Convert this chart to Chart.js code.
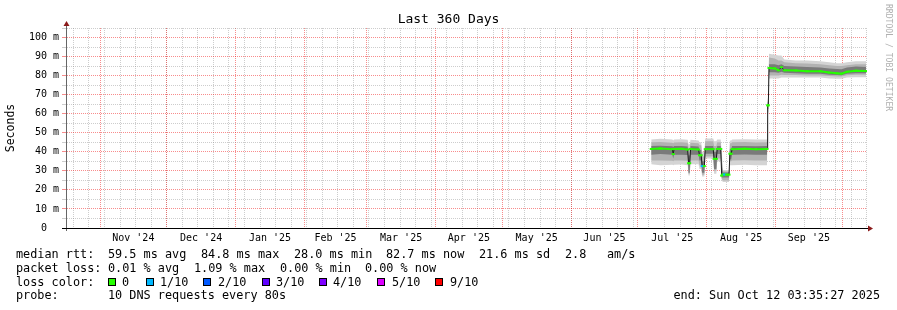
<!DOCTYPE html>
<html lang="en">
<head>
<meta charset="UTF-8">
<title>Last 360 Days</title>
<script src="https://cdn.jsdelivr.net/npm/chart.js@4"></script>
<style>
  body { margin: 0; background: #fff; }
  #wrap { position: relative; width: 897px; height: 310px; font-family: 'DejaVu Sans Mono', monospace; color: #000; }
  #wrap canvas { position: absolute; left: 0; top: 0; }
  #title { position: absolute; left: 0; top: 11px; width: 897px; text-align: center; font-size: 13px; line-height: 16px; }
  #rrd { position: absolute; left: 884px; top: 4px; writing-mode: vertical-rl; font-size: 8.1px; line-height: 10px; color: #b0b0b0; }
  .t { position: absolute; white-space: pre; font-size: 11.84px; line-height: 14px; }
  .box { position: absolute; top: 278px; width: 6px; height: 6px; border: 1px solid #000; }
</style>
</head>
<body>
<div id="wrap">
  <canvas id="smoke" width="897" height="310"></canvas>
  <div id="title">Last 360 Days</div>
  <div id="rrd">RRDTOOL / TOBI OETIKER</div>

  <div class="t" style="left:16px;top:247px">median rtt:</div>
  <div class="t" style="left:108px;top:247px">59.5 ms avg</div>
  <div class="t" style="left:201px;top:247px">84.8 ms max</div>
  <div class="t" style="left:294px;top:247px">28.0 ms min</div>
  <div class="t" style="left:386px;top:247px">82.7 ms now</div>
  <div class="t" style="left:479px;top:247px">21.6 ms sd</div>
  <div class="t" style="left:565px;top:247px">2.8</div>
  <div class="t" style="left:607px;top:247px">am/s</div>

  <div class="t" style="left:16px;top:261px">packet loss:</div>
  <div class="t" style="left:108px;top:261px">0.01 % avg</div>
  <div class="t" style="left:194px;top:261px">1.09 % max</div>
  <div class="t" style="left:280px;top:261px">0.00 % min</div>
  <div class="t" style="left:365px;top:261px">0.00 % now</div>

  <div class="t" style="left:16px;top:275px">loss color:</div>
  <div class="box" style="left:108px;background:#26ff00"></div><div class="t" style="left:122px;top:275px">0</div>
  <div class="box" style="left:146px;background:#00b8ff"></div><div class="t" style="left:160px;top:275px">1/10</div>
  <div class="box" style="left:203px;background:#0059ff"></div><div class="t" style="left:218px;top:275px">2/10</div>
  <div class="box" style="left:262px;background:#5e00ff"></div><div class="t" style="left:276px;top:275px">3/10</div>
  <div class="box" style="left:319px;background:#7e00ff"></div><div class="t" style="left:333px;top:275px">4/10</div>
  <div class="box" style="left:377px;background:#dd00ff"></div><div class="t" style="left:392px;top:275px">5/10</div>
  <div class="box" style="left:435px;background:#ff0000"></div><div class="t" style="left:450px;top:275px">9/10</div>

  <div class="t" style="left:16px;top:288px">probe:</div>
  <div class="t" style="left:108px;top:288px">10 DNS requests every 80s</div>
  <div class="t" style="right:17px;top:288px">end: Sun Oct 12 03:35:27 2025</div>
</div>

<script>
// time axis: days since start of the 360 day window
const spanDays = 360;
const monthLabels = ["Nov '24", "Dec '24", "Jan '25", "Feb '25", "Mar '25", "Apr '25",
                     "May '25", "Jun '25", "Jul '25", "Aug '25", "Sep '25"];

// samples (ms)
const days    = [262.9, 267, 272.4, 272.8, 273.2, 276.5, 279.3, 279.7, 280.2, 280.6,
                 284.2, 284.6, 285.4, 285.8, 286.8, 287.2, 290.8, 291.2, 292.2, 292.6,
                 294.2, 294.6, 295.2, 295.8, 296.8, 297.9, 298.3, 298.9, 299.3, 305,
                 310, 315.0, 315.3, 315.6, 315.9, 318.5, 320.2, 321.5, 322.8, 328,
                 333, 339, 343, 346.5, 348.5, 351, 355, 359.6];
const median  = [41.5, 41.8, 41.4, 38.8, 41.5, 41.6, 41.2, 34.0, 34.0, 41.5,
                 41.2, 38.2, 38.2, 32.5, 32.5, 41.4, 41.4, 36.3, 36.3, 41.5,
                 41.5, 27.5, 28.1, 28.1, 28.0, 28.0, 39.0, 39.0, 41.4, 41.6,
                 41.4, 41.5, 64.4, 64.4, 84.0, 83.8, 82.8, 84.4, 82.8, 82.7,
                 82.3, 82.3, 81.6, 81.2, 81.0, 82.0, 82.6, 82.4];
const loss    = [0, 0, 0, 0, 0, 0, 0, 0, 0, 0,
                 0, 0, 0, 1, 0, 0, 0, 0, 0, 0,
                 0, 0, 0, 1, 0, 0, 0, 0, 0, 0,
                 0, 0, 0, 0, 0, 0, 0, 0, 0, 0,
                 0, 0, 0, 0, 0, 0, 0, 0];
const outerLo = [33.5, 33.0, 33.2, 33.0, 33.2, 33.3, 33.0, 27.5, 27.5, 33.5,
                 33.5, 31.0, 31.0, 27.0, 27.0, 36.5, 36.5, 28.5, 28.5, 35.0,
                 35.0, 25.0, 24.2, 24.2, 24.2, 24.2, 33.0, 33.0, 33.0, 33.2,
                 33.0, 33.0, 60.0, 60.0, 78.5, 78.5, 78.5, 79.0, 79.0, 79.0,
                 79.0, 79.0, 78.5, 78.3, 78.3, 79.0, 79.2, 79.2];
const outerHi = [46.5, 46.8, 46.4, 46.0, 46.4, 46.6, 46.3, 44.0, 44.0, 46.3,
                 46.0, 45.0, 45.0, 40.0, 40.0, 47.0, 47.0, 45.5, 45.5, 46.5,
                 46.5, 40.0, 30.5, 30.5, 30.4, 30.4, 46.0, 46.0, 46.5, 46.6,
                 46.4, 46.5, 68.0, 68.0, 91.5, 91.0, 90.5, 90.5, 88.5, 88.0,
                 88.0, 87.5, 87.0, 86.5, 86.5, 87.0, 87.5, 87.5];
const midLo   = [35.5, 35.5, 35.3, 35.0, 35.4, 35.5, 35.3, 28.5, 28.5, 35.5,
                 35.5, 33.0, 33.0, 28.0, 28.0, 37.5, 37.5, 30.0, 30.0, 36.5,
                 36.5, 26.0, 25.0, 25.0, 25.0, 25.0, 35.0, 35.0, 35.5, 35.6,
                 35.4, 35.5, 61.0, 61.0, 80.0, 80.0, 80.0, 80.5, 80.3, 80.3,
                 80.0, 80.0, 79.8, 79.5, 79.5, 80.2, 80.5, 80.5];
const midHi   = [45.0, 45.2, 44.8, 44.5, 44.9, 45.0, 44.8, 42.0, 42.0, 44.8,
                 44.5, 43.5, 43.5, 37.5, 37.5, 45.5, 45.5, 43.0, 43.0, 45.0,
                 45.0, 36.0, 29.8, 29.8, 29.7, 29.7, 44.5, 44.5, 45.0, 45.1,
                 44.9, 45.0, 67.0, 67.0, 89.5, 89.0, 88.0, 88.0, 87.0, 86.5,
                 86.3, 86.0, 85.5, 85.0, 85.0, 85.5, 86.0, 86.0];
const innerLo = [38.5, 38.8, 38.4, 36.5, 38.4, 38.5, 38.3, 29.0, 29.0, 38.5,
                 38.5, 35.5, 35.5, 29.0, 29.0, 39.0, 39.0, 31.0, 31.0, 38.8,
                 38.8, 26.5, 26.5, 26.5, 26.5, 26.5, 36.0, 36.0, 38.5, 38.6,
                 38.4, 38.5, 62.5, 62.5, 81.8, 81.8, 81.5, 82.0, 81.5, 81.3,
                 81.0, 81.0, 80.5, 80.3, 80.2, 81.0, 81.3, 81.3];
const innerHi = [43.0, 43.2, 42.9, 42.5, 43.0, 43.0, 42.8, 38.0, 38.0, 43.0,
                 42.8, 41.0, 41.0, 35.0, 35.0, 43.0, 43.0, 40.0, 40.0, 43.0,
                 43.0, 33.0, 29.2, 29.2, 29.1, 29.1, 41.5, 41.5, 43.0, 43.1,
                 42.9, 43.0, 66.0, 66.0, 86.0, 86.0, 85.5, 86.0, 85.0, 84.8,
                 84.5, 84.2, 83.8, 83.5, 83.4, 84.3, 84.8, 84.5];

const lossColors = ['#26ff00', '#00b8ff', '#0059ff', '#5e00ff', '#7e00ff', '#dd00ff', '#ff0000'];
const RED = 'rgba(240,0,0,0.45)';
const GRAY = 'rgba(130,130,130,0.4)';

// x ticks: sunday grid, month grid, mid month labels
const DAY = 86400000;
const endTime = Date.UTC(2025, 9, 12, 3, 35, 27);
const startTime = endTime - spanDays * DAY;
const toDay = t => (t - startTime) / DAY;
const weekDays = [], monthDays = [], labelDays = [];
for (let t = Date.UTC(2024, 9, 20); t < endTime; t += 7 * DAY) weekDays.push(toDay(t));
for (let k = 0; k < 12; k++) {
    const t = Date.UTC(2024, 10 + k, 1);
    const next = Date.UTC(2024, 11 + k, 1);
    monthDays.push(toDay(t));
    if (k < monthLabels.length) labelDays.push(toDay((t + next) / 2));
}

const pts = arr => days.map((d, i) => ({x: d, y: arr[i]}));
const band = (arr, color, fill) => ({
    data: pts(arr), borderWidth: 0, pointRadius: 0,
    backgroundColor: color, fill: fill ? '+1' : false
});
// invisible helper axis that only contributes dotted grid lines
const gridAxis = (list, color) => ({
    type: 'linear', position: 'bottom', min: 0, max: spanDays,
    afterFit(s) { s.height = 0; },
    afterBuildTicks(s) { s.ticks = list.map(v => ({value: v})); },
    ticks: {display: false, autoSkip: false},
    grid: {drawTicks: false, color: color},
    border: {display: false, dash: [1, 1]}
});

const axisArrows = {
    id: 'axisArrows',
    afterDraw(chart) {
        const {ctx, chartArea: a} = chart;
        ctx.save();
        ctx.lineWidth = 1;
        ctx.strokeStyle = '#666';
        ctx.beginPath();
        ctx.moveTo(a.left - 0.5, a.top - 5);
        ctx.lineTo(a.left - 0.5, a.bottom + 3);
        ctx.stroke();
        ctx.strokeStyle = '#000';
        ctx.beginPath();
        ctx.moveTo(a.left - 5, a.bottom + 0.5);
        ctx.lineTo(a.right + 3, a.bottom + 0.5);
        ctx.stroke();
        ctx.fillStyle = '#8b1a1a';
        ctx.beginPath();
        ctx.moveTo(a.left - 0.5, a.top - 7);
        ctx.lineTo(a.left - 3.5, a.top - 2);
        ctx.lineTo(a.left + 2.5, a.top - 2);
        ctx.fill();
        ctx.beginPath();
        ctx.moveTo(a.right + 6, a.bottom + 0.5);
        ctx.lineTo(a.right + 1, a.bottom - 2.5);
        ctx.lineTo(a.right + 1, a.bottom + 3.5);
        ctx.fill();
        ctx.restore();
    }
};

new Chart(document.getElementById('smoke'), {
    type: 'line',
    data: {
        datasets: [
            {
                data: pts(median), borderWidth: 2, borderColor: lossColors[0],
                pointStyle: 'line', pointRadius: 1.5, pointBorderWidth: 2,
                pointBorderColor: loss.map(l => lossColors[l]),
                pointBackgroundColor: loss.map(l => lossColors[l]),
                segment: {
                    borderColor: c => Math.abs(c.p1.y - c.p0.y) > 2.5 ? 'rgba(0,0,0,0)' : lossColors[loss[c.p0DataIndex]]
                }
            },
            {data: pts(median), borderWidth: 1, borderColor: '#1c1c1c', pointRadius: 0},
            band(innerHi, '#7a7a7a', true),
            band(innerLo),
            band(midHi, '#b2b2b2', true),
            band(midLo),
            band(outerHi, '#d4d4d4', true),
            band(outerLo)
        ]
    },
    options: {
        responsive: false,
        animation: false,
        layout: {padding: {left: 0, top: 28, right: 30, bottom: 62}},
        plugins: {legend: {display: false}, tooltip: {enabled: false}},
        scales: {
            x: {
                type: 'linear', min: 0, max: spanDays,
                afterFit(s) { s.height = 20; },
                afterBuildTicks(s) { s.ticks = labelDays.map(v => ({value: v})); },
                ticks: {
                    autoSkip: false, maxRotation: 0, minRotation: 0, padding: 4,
                    font: {family: 'DejaVu Sans Mono', size: 10}, color: '#000',
                    callback: (v, i) => monthLabels[i]
                },
                grid: {display: false, drawTicks: false},
                border: {display: false}
            },
            xWeek: gridAxis(weekDays, GRAY),
            xMonth: gridAxis(monthDays, RED),
            y: {
                min: 0, max: 105,
                afterFit(s) { s.width = 67; },
                ticks: {
                    stepSize: 5, autoSkip: false, padding: 3,
                    font: {family: 'DejaVu Sans Mono', size: 10}, color: '#000',
                    callback: v => v % 10 ? '' : (v ? v + ' m' : '0  ')
                },
                grid: {
                    tickLength: 5,
                    color: c => c.tick.value === 0 ? 'rgba(0,0,0,0)' : (c.tick.value % 10 ? GRAY : RED)
                },
                border: {display: false, dash: [1, 1]},
                title: {
                    display: true, text: 'Seconds', color: '#000',
                    font: {family: 'DejaVu Sans Mono', size: 11.5}, padding: {top: 4, bottom: 4}
                }
            }
        }
    },
    plugins: [axisArrows]
});
</script>
</body>
</html>
